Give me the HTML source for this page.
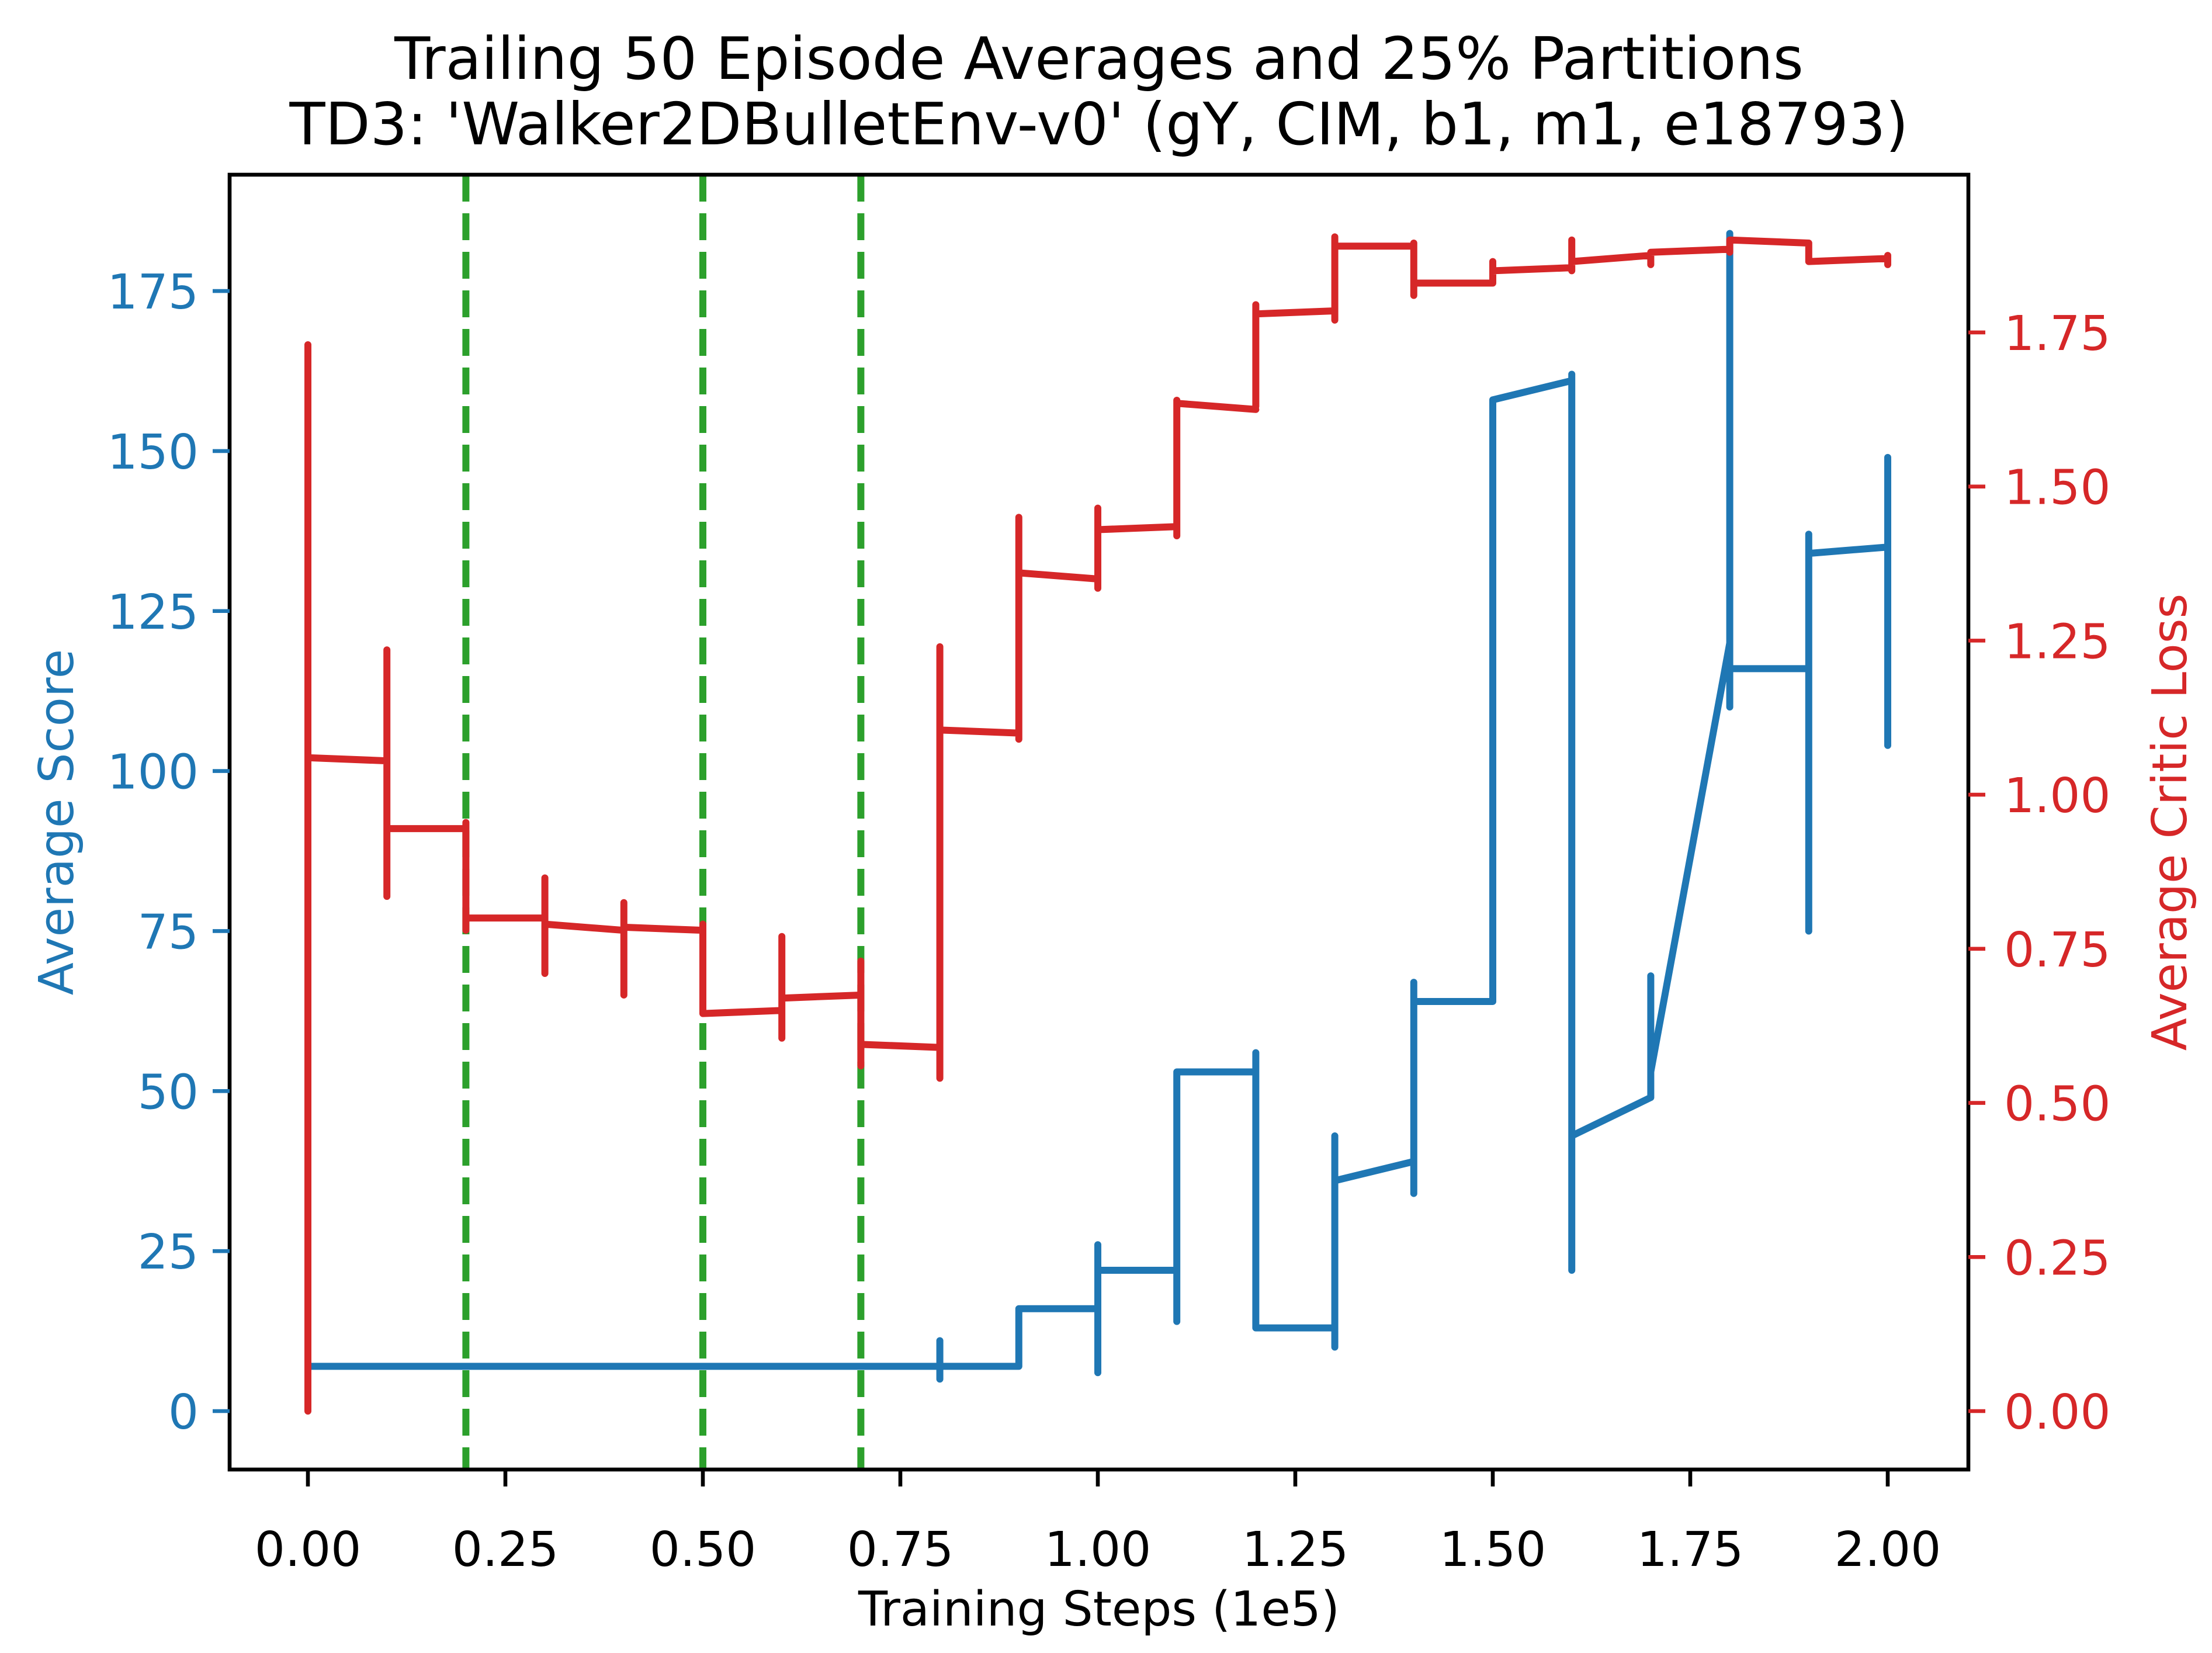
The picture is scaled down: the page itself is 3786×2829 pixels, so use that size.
<!DOCTYPE html>
<html><head><meta charset="utf-8"><style>
html,body{margin:0;padding:0;background:#fff}
svg{display:block}
text{font-family:"DejaVu Sans","Liberation Sans",sans-serif}
</style></head><body>
<svg id="chart" width="3786" height="2829" viewBox="0 0 3786 2829">
<rect width="3786" height="2829" fill="#fff"/>
<text x="1881" y="135" font-size="100" text-anchor="middle">Trailing 50 Episode Averages and 25% Partitions</text>
<text x="1881" y="247" font-size="100" text-anchor="middle">TD3: 'Walker2DBulletEnv-v0' (gY, CIM, b1, m1, e18793)</text>
<g id="plot"></g>
<text x="1881" y="2782" font-size="82" text-anchor="middle">Training Steps (1e5)</text>
<text transform="translate(125,1407) rotate(-90)" font-size="82" text-anchor="middle" fill="#1f77b4">Average Score</text>
<text transform="translate(3742,1407) rotate(-90)" font-size="82" text-anchor="middle" fill="#d62728">Average Critic Loss</text>
</svg>
<script>
const xTicks = [0,0.25,0.5,0.75,1.0,1.25,1.5,1.75,2.0];
const scoreTicks = [0,25,50,75,100,125,150,175];
const lossTicks = [0,0.25,0.5,0.75,1.0,1.25,1.5,1.75];
const steps = [0,0.1,0.2,0.3,0.4,0.5,0.6,0.7,0.8,0.9,1.0,1.1,1.2,1.3,1.4,1.5,1.6,1.7,1.8,1.9,2.0];
const scoreStart = [7,7,7,7,7,7,7,7,7,16,22,53,13,36,64,158,43,53,116,134];
const scoreEnd   = [7,7,7,7,7,7,7,7,7,16,22,53,13,39,64,161,49,120,116,135];
const scoreLo = [7,7,7,7,7,7,7,7,5,7,6,14,13,10,34,64,22,49,110,75,104];
const scoreHi = [7,7,7,7,7,7,7,7,11,16,26,53,56,43,67,158,162,68,184,137,149];
const lossStart = [1.06,0.945,0.8,0.79,0.785,0.645,0.67,0.595,1.105,1.36,1.43,1.635,1.78,1.89,1.83,1.85,1.865,1.88,1.9,1.865];
const lossEnd   = [1.055,0.945,0.8,0.78,0.78,0.65,0.675,0.59,1.1,1.35,1.435,1.625,1.785,1.89,1.83,1.855,1.875,1.885,1.895,1.87];
const lossLo = [0,0.835,0.78,0.71,0.675,0.645,0.605,0.56,0.54,1.09,1.335,1.42,1.63,1.77,1.81,1.83,1.85,1.86,1.88,1.865,1.86];
const lossHi = [1.73,1.235,0.955,0.865,0.825,0.79,0.77,0.73,1.24,1.45,1.465,1.64,1.795,1.905,1.895,1.865,1.9,1.88,1.9,1.895,1.875];
const partitions = [0.2,0.5,0.7];

const L=393,R=3369,T=299,B=2515;
const X=v=>527+v*1352;
const YS=v=>2415-v*10.954;
const YL=v=>2415-v*1054.9;
const NS='http://www.w3.org/2000/svg';
const plot=document.getElementById('plot');
function mk(tag,attrs,parent){const e=document.createElementNS(NS,tag);for(const k in attrs)e.setAttribute(k,attrs[k]);(parent||plot).appendChild(e);return e;}

const clip=mk('clipPath',{id:'clip'});mk('rect',{x:L,y:T,width:R-L,height:B-T},clip);
const g=mk('g',{'clip-path':'url(#clip)'});



function series(start,end,lo,hi,Y,color,name){
  let d='';
  for(let i=0;i<steps.length;i++){
    d+=`M${X(steps[i])},${Y(lo[i])}L${X(steps[i])},${Y(hi[i])}`;
    if(i<start.length) d+=`M${X(steps[i])},${Y(start[i])}L${X(steps[i+1])},${Y(end[i])}`;
  }
  const p=mk('path',{d:d,fill:'none',stroke:color,'stroke-width':12,'stroke-linecap':'round','stroke-linejoin':'round'},g);
  
  
}
partitions.forEach(v=>{
  const l=mk('line',{x1:X(v),x2:X(v),y1:T,y2:B,stroke:'#2ca02c','stroke-width':12,'stroke-dasharray':'46 20'},g);
  
  
});
series(scoreStart,scoreEnd,scoreLo,scoreHi,YS,'#1f77b4','score-line');
series(lossStart,lossEnd,lossLo,lossHi,YL,'#d62728','critic-loss-line');

const frame=mk('rect',{x:L,y:T,width:R-L,height:B-T,fill:'none',stroke:'#000','stroke-width':6.6});



xTicks.forEach(v=>{
  const t=mk('line',{x1:X(v),x2:X(v),y1:B,y2:B+29,stroke:'#000','stroke-width':6.6});
  
  
  const s=mk('text',{x:X(v),y:2680,'font-size':82,'text-anchor':'middle'});
  s.textContent=v.toFixed(2);
  
  
});
scoreTicks.forEach(v=>{
  const t=mk('line',{x1:L-29,x2:L,y1:YS(v),y2:YS(v),stroke:'#1f77b4','stroke-width':6.6});
  
  
  const s=mk('text',{x:340,y:YS(v)+30,'font-size':82,'text-anchor':'end',fill:'#1f77b4'});
  s.textContent=String(v);
  
  
});
lossTicks.forEach(v=>{
  const t=mk('line',{x1:R,x2:R+29,y1:YL(v),y2:YL(v),stroke:'#d62728','stroke-width':6.6});
  
  
  const s=mk('text',{x:3430,y:YL(v)+30,'font-size':82,'text-anchor':'start',fill:'#d62728'});
  s.textContent=v.toFixed(2);
  
  
});
</script>
</body></html>
